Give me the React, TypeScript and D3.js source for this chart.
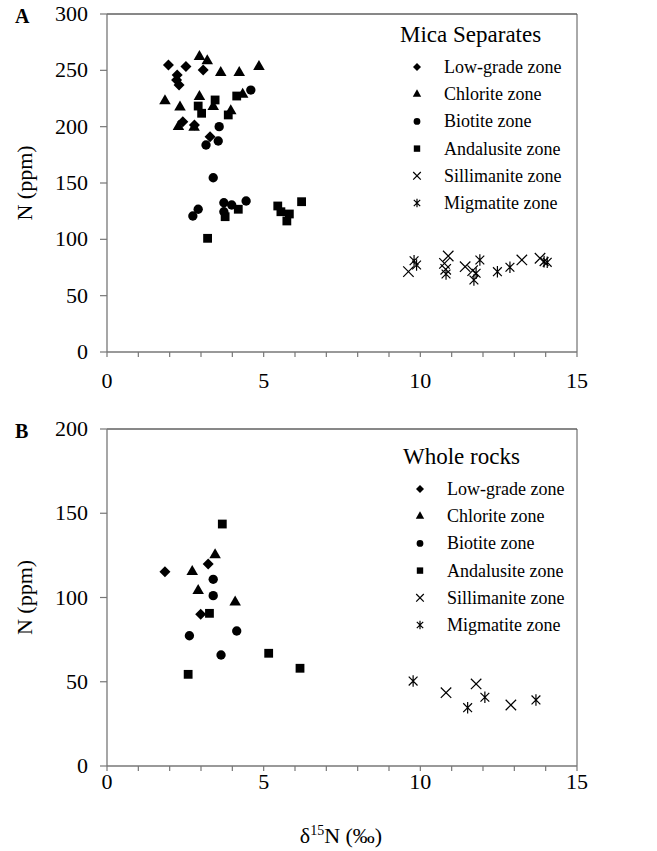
import React from "react";
import * as d3 from "d3";

type Pt = [number, number];

// ---- Panel A: Mica separates (x = δ15N ‰, y = N ppm)
const micaLowGrade: Pt[] = [[1.96,254.7],[2.52,253.3],[3.07,250.3],[2.24,245.9],[2.22,241.4],[2.30,237.0],[2.42,204.4],[2.79,201.5],[3.29,191.1]];
const micaChlorite: Pt[] = [[2.95,262.1],[3.20,258.3],[3.63,247.9],[4.22,247.9],[4.85,253.3],[1.85,222.8],[2.33,217.2],[2.95,226.6],[3.39,217.7],[3.95,213.9],[4.33,228.7],[2.28,200.0],[2.78,199.4]];
const micaBiotite: Pt[] = [[4.59,232.5],[3.58,200.0],[3.16,183.7],[3.55,187.3],[3.39,154.7],[2.91,126.7],[2.74,120.7],[3.73,132.5],[3.98,130.5],[4.44,134.0],[3.73,124.5]];
const micaAndalusite: Pt[] = [[3.45,223.7],[2.91,218.3],[3.02,211.9],[4.14,227.2],[3.87,210.4],[4.19,126.7],[3.77,120.1],[3.21,100.9],[5.45,129.6],[5.55,124.5],[5.82,122.5],[5.74,116.3],[6.21,133.4]];
const micaSillimanite: Pt[] = [[9.62,71.3],[10.89,85.2],[10.77,78.7],[10.81,73.4],[11.43,75.7],[11.67,72.2],[13.24,81.7],[13.82,83.2]];
const micaMigmatite: Pt[] = [[9.80,81.0],[9.88,77.2],[10.82,69.2],[11.90,81.7],[11.78,69.9],[11.71,63.9],[12.46,71.3],[12.86,75.2],[13.95,80.2],[14.05,79.6]];

// ---- Panel B: Whole rocks
const rockLowGrade: Pt[] = [[3.23,119.9],[1.85,115.3],[2.99,90.0]];
const rockChlorite: Pt[] = [[3.45,125.2],[2.72,115.3],[2.91,104.0],[4.09,97.2]];
const rockBiotite: Pt[] = [[3.39,110.8],[3.39,101.1],[4.14,80.1],[2.63,77.3],[3.64,65.9]];
const rockAndalusite: Pt[] = [[3.68,143.6],[3.27,90.6],[5.16,66.9],[6.16,58.0],[2.59,54.4]];
const rockSillimanite: Pt[] = [[10.82,43.5],[11.78,48.7],[12.89,36.2]];
const rockMigmatite: Pt[] = [[9.77,50.4],[12.06,40.8],[11.51,34.6],[13.69,39.2]];

const zoneNames = ["Low-grade zone","Chlorite zone","Biotite zone","Andalusite zone","Sillimanite zone","Migmatite zone"];
const zoneShapes = ["diamond","triangle","circle","square","x","asterisk"];
const xTicks = [0,5,10,15];
const yTicksA = [0,50,100,150,200,250,300];
const yTicksB = [0,50,100,150,200];

const FONT = "Liberation Serif, Times New Roman, serif";

function Marker({ type, x, y, s }: { type: string; x: number; y: number; s: number }) {
  // s = half-extent in px
  switch (type) {
    case "diamond":
      return <path d={d3.symbol(d3.symbolSquare, 2 * s * s)()!} transform={`translate(${x},${y}) rotate(45)`} fill="#000" />;
    case "triangle": {
      const a = s * 2.1;
      return <path d={d3.symbol(d3.symbolTriangle, (Math.sqrt(3) / 4) * a * a)()!} transform={`translate(${x},${y})`} fill="#000" />;
    }
    case "circle":
      return <path d={d3.symbol(d3.symbolCircle, Math.PI * (s * 0.85) ** 2)()!} transform={`translate(${x},${y})`} fill="#000" />;
    case "square":
      return <path d={d3.symbol(d3.symbolSquare, (s * 1.6) ** 2)()!} transform={`translate(${x},${y})`} fill="#000" />;
    case "x": {
      const h = s * 0.95;
      return <path d={`M${x - h},${y - h}L${x + h},${y + h}M${x - h},${y + h}L${x + h},${y - h}`} stroke="#000" strokeWidth={1.2} fill="none" />;
    }
    default: {
      const h = s * 0.8;
      const v = s * 1.05;
      return <path d={`M${x - h},${y - h}L${x + h},${y + h}M${x - h},${y + h}L${x + h},${y - h}M${x},${y - v}L${x},${y + v}`} stroke="#000" strokeWidth={1.2} fill="none" />;
    }
  }
}

function Panel({ series, yMax, yTicks, top, bottom, letter, title, legendX, legendY, xlabelY }: any) {
  const x = d3.scaleLinear().domain([0, 15]).range([107, 577]);
  const y = d3.scaleLinear().domain([0, yMax]).range([bottom, top]);
  const minor = d3.range(0, 16, 1);
  const mid = (top + bottom) / 2;
  return (
    <g>
      <line x1={x(0)} x2={x(15)} y1={top} y2={top} stroke="#111" strokeWidth={1} />
      <line x1={x(15)} x2={x(15)} y1={top} y2={bottom} stroke="#555" strokeWidth={1} />
      <line x1={x(0)} x2={x(0)} y1={top} y2={bottom} stroke="#777" strokeWidth={1.3} />
      <line x1={x(0)} x2={x(15)} y1={bottom} y2={bottom} stroke="#777" strokeWidth={1.3} />
      {yTicks.map((t: number) => (
        <g key={t}>
          <line x1={x(0) - 7} x2={x(0)} y1={y(t)} y2={y(t)} stroke="#777" strokeWidth={1.2} />
          <text x={88} y={y(t) + 7} textAnchor="end" fontSize={22} fontFamily={FONT}>{t}</text>
        </g>
      ))}
      {minor.map((t: number) => (
        <line key={t} x1={x(t)} x2={x(t)} y1={bottom} y2={bottom + 5} stroke="#777" strokeWidth={1.2} />
      ))}
      {xTicks.map((t: number) => (
        <text key={t} x={x(t)} y={xlabelY} textAnchor="middle" fontSize={22} fontFamily={FONT}>{t}</text>
      ))}
      <text x={15} y={top + 9} fontSize={20} fontWeight="bold" fontFamily={FONT}>{letter}</text>
      <text transform={`translate(32,${mid}) rotate(-90)`} textAnchor="middle" fontSize={22} fontFamily={FONT}>N (ppm)</text>
      {series.map((pts: Pt[], i: number) => (
        <g key={i}>
          {pts.map((p, j) => (
            <Marker key={j} type={zoneShapes[i]} x={x(p[0])} y={y(p[1])} s={5.5} />
          ))}
        </g>
      ))}
      <text x={legendX - 17} y={legendY} fontSize={23} fontFamily={FONT}>{title}</text>
      {zoneNames.map((n, i) => {
        const ry = legendY + 25 + i * 27.2;
        return (
          <g key={n}>
            <Marker type={zoneShapes[i]} x={legendX} y={ry} s={4} />
            <text x={legendX + 27} y={ry + 6} fontSize={18} fontFamily={FONT}>{n}</text>
          </g>
        );
      })}
    </g>
  );
}

export default function App() {
  return (
    <svg width={657} height={851} style={{ position: "absolute", left: 0, top: 0, background: "#fff" }}>
      <rect width={657} height={851} fill="#fff" />
      <Panel series={[micaLowGrade, micaChlorite, micaBiotite, micaAndalusite, micaSillimanite, micaMigmatite]}
        yMax={300} yTicks={yTicksA} top={14} bottom={352} letter="A" title="Mica Separates"
        legendX={417} legendY={42} xlabelY={388} />
      <Panel series={[rockLowGrade, rockChlorite, rockBiotite, rockAndalusite, rockSillimanite, rockMigmatite]}
        yMax={200} yTicks={yTicksB} top={429} bottom={766} letter="B" title="Whole rocks"
        legendX={420} legendY={464} xlabelY={789} />
      <text x={341} y={843} textAnchor="middle" fontSize={22} fontFamily={FONT}>
        δ<tspan fontSize={14} dy={-8}>15</tspan><tspan dy={8}>N (‰)</tspan>
      </text>
    </svg>
  );
}
